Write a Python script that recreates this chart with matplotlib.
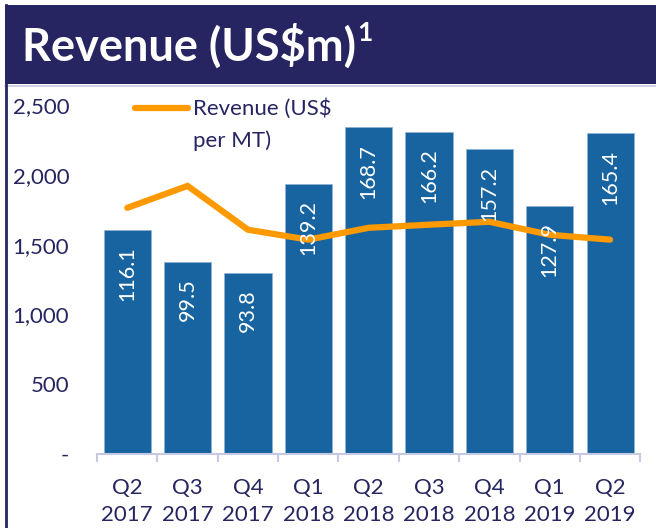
import matplotlib
matplotlib.use('Agg')
import matplotlib.pyplot as plt
from matplotlib.patches import Rectangle
from matplotlib.lines import Line2D

NAVY = '#262561'
BAR = '#1764A0'
ORANGE = '#FF9900'
AXIS = '#C5C9E3'

quarters = ['Q2\n2017', 'Q3\n2017', 'Q4\n2017', 'Q1\n2018', 'Q2\n2018',
            'Q3\n2018', 'Q4\n2018', 'Q1\n2019', 'Q2\n2019']
revenue = [1607, 1379, 1300, 1936, 2343, 2309, 2186, 1779, 2300]
bar_labels = ['116.1', '99.5', '93.8', '139.2', '168.7', '166.2', '157.2', '127.9', '165.4']
rev_per_mt = [1764, 1921, 1607, 1536, 1621, 1643, 1664, 1571, 1536]
yticks = [0, 500, 1000, 1500, 2000, 2500]
ytick_labels = ['-', '500', '1,000', '1,500', '2,000', '2,500']

plt.rcParams['font.family'] = ['Lato', 'DejaVu Sans']

fig = plt.figure(figsize=(6.56, 5.28), dpi=100)

# title banner and left frame line
fig.add_artist(Rectangle((0.008, 0.841), 0.992, 0.15, transform=fig.transFigure,
                         facecolor=NAVY, edgecolor='none'))
fig.add_artist(Line2D([0.008, 1], [0.838, 0.838], transform=fig.transFigure,
                      color=AXIS, lw=1.2))
fig.add_artist(Line2D([0.009, 0.009], [0, 0.99], transform=fig.transFigure,
                      color=NAVY, lw=2))
t = fig.text(0.034, 0.912, 'Revenue (US\\$m)', color='white', fontsize=32.5,
             fontweight='bold', va='center', ha='left')
fig.canvas.draw()
bb = t.get_window_extent()
fig.text(bb.x1 / fig.bbox.width + 0.001, 0.937, '1', color='white', fontsize=19,
         fontweight='bold', va='center', ha='left')

ax = fig.add_axes([0.148, 0.140, 0.828, 0.661])
x = range(len(quarters))
bars = ax.bar(x, revenue, width=0.78, color=BAR, edgecolor='#8FB3D6', linewidth=0.6,
              zorder=2)
ax.plot(x, rev_per_mt, color=ORANGE, lw=4.5, solid_capstyle='round',
        solid_joinstyle='miter', zorder=3)

for xi, h, lbl in zip(x, revenue, bar_labels):
    ax.annotate(lbl, (xi, h), xytext=(0, -12), textcoords='offset points',
                rotation=90, ha='center', va='top', color='white', fontsize=15.5,
                zorder=4)

# legend key, drawn by hand so the line sits on the first text line
ax.plot([0.070, 0.168], [0.991, 0.991], transform=ax.transAxes, color=ORANGE,
        lw=4.5, solid_capstyle='round', clip_on=False)
ax.text(0.177, 0.991, 'Revenue (US\\$', transform=ax.transAxes, color=NAVY,
        fontsize=16, va='center', ha='left')
ax.text(0.177, 0.899, 'per MT)', transform=ax.transAxes, color=NAVY,
        fontsize=16, va='center', ha='left')

ax.set_xlim(-0.5, len(quarters) - 0.5)
ax.set_ylim(0, 2500)
ax.set_yticks(yticks)
ax.set_yticklabels(ytick_labels)
ax.set_xticks(list(x))
ax.set_xticklabels(quarters, linespacing=1.45)
ax.set_xticks([i - 0.5 for i in range(len(quarters) + 1)], minor=True)

for side in ['top', 'right', 'left']:
    ax.spines[side].set_visible(False)
ax.spines['bottom'].set_color(AXIS)
ax.spines['bottom'].set_linewidth(1.5)

ax.tick_params(axis='y', length=0, pad=20, labelsize=16, labelcolor=NAVY)
ax.tick_params(axis='x', which='major', length=0, pad=17, labelsize=16, labelcolor=NAVY)
ax.tick_params(axis='x', which='minor', length=6, width=1.5, color=AXIS, direction='out')

fig.savefig('out.png', dpi=100)
